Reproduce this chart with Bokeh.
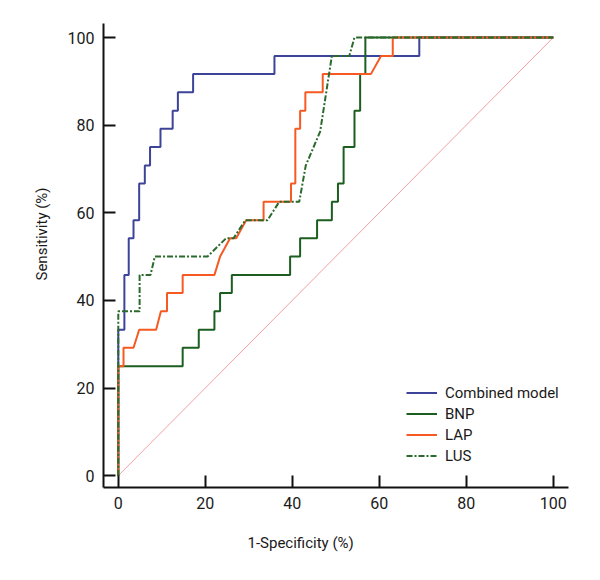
from bokeh.plotting import figure
from bokeh.models import Range1d, Legend, LegendItem, FixedTicker, Title
from bokeh.embed import file_html
from bokeh.resources import INLINE

# ---- data ----
series_names = ["Combined model", "BNP", "LAP", "LUS"]
ticks = [0, 20, 40, 60, 80, 100]

combined_fpr = [0, 0, 1.4, 1.4, 2.4, 2.4, 3.5, 3.5, 4.8, 4.8, 6.1, 6.1, 7.3, 7.3,
                9.7, 9.7, 12.5, 12.5, 13.7, 13.7, 17.2, 17.2, 35.9, 35.9, 69.2, 69.2, 100]
combined_tpr = [0, 33.3, 33.3, 45.8, 45.8, 54.2, 54.2, 58.3, 58.3, 66.7, 66.7, 70.8, 70.8, 75,
                75, 79.2, 79.2, 83.3, 83.3, 87.5, 87.5, 91.7, 91.7, 95.8, 95.8, 100, 100]

bnp_fpr = [0, 0, 14.8, 14.8, 18.5, 18.5, 22.1, 22.1, 23.4, 23.4, 26.1, 26.1, 39.5, 39.5,
           41.8, 41.8, 45.7, 45.7, 49.1, 49.1, 50.5, 50.5, 51.8, 51.8, 54.3, 54.3, 55.6, 55.6,
           56.8, 56.8, 100]
bnp_tpr = [0, 25, 25, 29.2, 29.2, 33.3, 33.3, 37.5, 37.5, 41.7, 41.7, 45.8, 45.8, 50,
           50, 54.2, 54.2, 58.3, 58.3, 62.5, 62.5, 66.7, 66.7, 75, 75, 83.3, 83.3, 91.7,
           91.7, 100, 100]

lap_fpr = [0, 0, 1.2, 1.2, 3.5, 4.8, 8.7, 9.8, 11.2, 11.2, 14.8, 14.8, 22.1, 23.4, 25.7,
           27.1, 29.4, 33.4, 33.4, 39.7, 39.7, 40.7, 40.7, 41.8, 41.8, 43.0, 43.0, 47.0,
           47.0, 58.1, 60.4, 63.1, 63.1, 100]
lap_tpr = [0, 25, 25, 29.2, 29.2, 33.3, 33.3, 37.5, 37.5, 41.7, 41.7, 45.8, 45.8, 50, 54.2,
           54.2, 58.3, 58.3, 62.5, 62.5, 66.7, 66.7, 79.2, 79.2, 83.3, 83.3, 87.5, 87.5,
           91.7, 91.7, 95.8, 95.8, 100, 100]

lus_fpr = [0, 0, 4.9, 4.9, 7.4, 8.4, 20.5, 24.8, 26.5, 29.2, 34.3, 37.0, 41.6, 43.1,
           46.4, 49.1, 53.1, 54.3, 100]
lus_tpr = [0, 37.5, 37.5, 45.8, 45.8, 50, 50, 54.2, 54.2, 58.3, 58.3, 62.5, 62.5, 70.8,
           78.5, 95.8, 95.8, 100, 100]

ref_x = [0, 100]
ref_y = [0, 100]

FONT = "Roboto"

p = figure(width=580, height=572, output_backend="svg", toolbar_location=None,
           x_range=Range1d(-3.4, 103.5), y_range=Range1d(-2.7, 103.2),
           min_border_left=103, min_border_right=12, min_border_top=23, min_border_bottom=84)
p.outline_line_color = None
p.xgrid.visible = False
p.ygrid.visible = False
p.background_fill_color = "white"

for ax in (p.xaxis, p.yaxis):
    ax.ticker = FixedTicker(ticks=ticks)
    ax.axis_line_width = 2
    ax.axis_line_color = "#111111"
    ax.major_tick_line_width = 2
    ax.major_tick_line_color = "#111111"
    ax.major_tick_in = 12
    ax.major_tick_out = 0
    ax.minor_tick_line_color = None
    ax.major_label_text_font = FONT
    ax.major_label_text_font_size = "16px"
    ax.major_label_text_color = "#1a1a1a"
    ax.major_label_standoff = 9

# reference diagonal
p.line(ref_x, ref_y, line_color="#f2a0a0", line_width=1)

r_comb = p.line(combined_fpr, combined_tpr, line_color="#3c4399", line_width=2)
r_bnp = p.line(bnp_fpr, bnp_tpr, line_color="#1c5e20", line_width=2)
r_lap = p.line(lap_fpr, lap_tpr, line_color="#f65a22", line_width=2)
r_lus = p.line(lus_fpr, lus_tpr, line_color="#2a6a2c", line_width=2, line_dash="6 2 2 2")

legend = Legend(items=[
    LegendItem(label=series_names[0], renderers=[r_comb]),
    LegendItem(label=series_names[1], renderers=[r_bnp]),
    LegendItem(label=series_names[2], renderers=[r_lap]),
    LegendItem(label=series_names[3], renderers=[r_lus]),
], location=(303, 21))
legend.border_line_color = None
legend.background_fill_alpha = 0
legend.padding = 0
legend.margin = 0
legend.spacing = 0
legend.glyph_width = 31
legend.glyph_height = 21
legend.label_height = 21
legend.label_standoff = 8
legend.label_text_font = FONT
legend.label_text_font_size = "15px"
legend.label_text_color = "#1a1a1a"
p.add_layout(legend, "center")

xt = Title(text="1-Specificity (%)", align="left", offset=144, standoff=41,
           text_font=FONT, text_font_size="15px", text_color="#1a1a1a",
           text_font_style="normal")
p.add_layout(xt, "below")

yt = Title(text="Sensitivity (%)", align="left", offset=207, standoff=27,
           text_font=FONT, text_font_size="15px", text_color="#1a1a1a",
           text_font_style="normal")
p.add_layout(yt, "left")

open("out.html", "w").write(file_html(p, INLINE))
